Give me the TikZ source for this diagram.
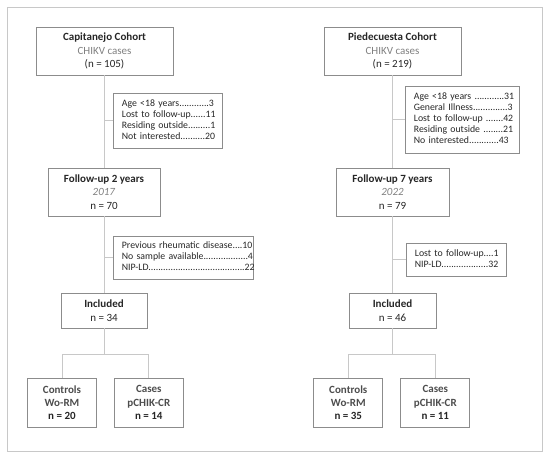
\documentclass[tikz,border=0pt]{standalone}
\usepackage{fontspec}
\setmainfont{Carlito}
\definecolor{boxline}{HTML}{8C8C8C}
\definecolor{linkgray}{HTML}{C8C8C8}
\definecolor{labelgray}{HTML}{808080}
\definecolor{inkgray}{HTML}{262626}
\definecolor{softink}{HTML}{4D4D4D}

\begin{document}
\begin{tikzpicture}[x=1pt, y=-1pt,
  box/.style={draw=boxline, line width=0.8pt, text=inkgray, align=center, inner sep=0pt, font=\fontsize{11}{13.5}\selectfont},
  excl/.style={draw=boxline, line width=0.8pt, text=inkgray, anchor=west, align=left, inner xsep=8.5pt, inner ysep=0pt, font=\fontsize{9.8}{10.9}\selectfont},
  leaf/.style={box, minimum width=69pt, minimum height=49pt, font=\bfseries\fontsize{11}{13.3}\selectfont},
  link/.style={draw=linkgray, line width=0.9pt}]
\useasboundingbox (0,0) rectangle (550,461);
\draw[linkgray, line width=1pt] (7,7) rectangle (542,451);

\node[box, minimum width=137pt, minimum height=48pt] (cap) at (104.5,51) {\textbf{Capitanejo Cohort}\\\textcolor{labelgray}{CHIKV cases}\\(n = 105)};
\node[excl, text width=92pt, minimum height=55pt] (exA) at (113,120.5) {\begin{tabular}{@{}l@{}}Age <18 years............3\\Lost to follow-up......11\\Residing outside.........1\\Not interested..........20\end{tabular}};
\node[box, minimum width=112pt, minimum height=48pt] (fu2) at (104,192) {\textbf{Follow-up 2 years}\\\textcolor{labelgray}{\textit{2017}}\\n = 70};
\node[excl, text width=123pt, minimum height=43pt] (exB) at (113,257.5) {\begin{tabular}{@{}l@{}}Previous rheumatic disease....10\\No sample available..................4\\NIP-LD.......................................22\end{tabular}};
\node[box, minimum width=86pt, minimum height=35pt] (inc1) at (104,310.5) {\textbf{Included}\\n = 34};
\node[leaf] (ctl1) at (62,402.5) {\textcolor{softink}{Controls}\\\textcolor{softink}{Wo-RM}\\n = 20};
\node[leaf] (cas1) at (148.8,402.5) {\textcolor{softink}{Cases}\\\textcolor{softink}{pCHIK-CR}\\n = 14};

\node[box, minimum width=137pt, minimum height=48pt] (pie) at (392.5,51) {\textbf{Piedecuesta Cohort}\\\textcolor{labelgray}{CHIKV cases}\\(n = 219)};
\node[excl, text width=97pt, minimum height=67pt] (exC) at (405,119.5) {\begin{tabular}{@{}l@{}}Age <18 years ............31\\General Illness..............3\\Lost to follow-up .......42\\Residing outside ........21\\No interested............43\end{tabular}};
\node[box, minimum width=113pt, minimum height=48pt] (fu7) at (392.5,192) {\textbf{Follow-up 7 years}\\\textcolor{labelgray}{\textit{2022}}\\n = 79};
\node[excl, text width=83pt, minimum height=33pt] (exD) at (406,259.5) {\begin{tabular}{@{}l@{}}Lost to follow-up....1\\NIP-LD...................32\end{tabular}};
\node[box, minimum width=87pt, minimum height=35pt] (inc2) at (392.5,310.5) {\textbf{Included}\\n = 46};
\node[leaf] (ctl2) at (348.3,402.5) {\textcolor{softink}{Controls}\\\textcolor{softink}{Wo-RM}\\n = 35};
\node[leaf] (cas2) at (435.3,402.5) {\textcolor{softink}{Cases}\\\textcolor{softink}{pCHIK-CR}\\n = 11};

\draw[link] (cap.south) -- (cap.south |- fu2.north);
\draw[link] (exA.west) -- (exA.west -| cap.south);
\draw[link] (fu2.south) -- (inc1.north);
\draw[link] (exB.west) -- (exB.west -| fu2.south);
\path (inc1.south) ++(0,26) coordinate (br1);
\draw[link] (inc1.south) -- (br1);
\draw[link] (ctl1.north) |- (br1) -| (cas1.north);

\draw[link] (pie.south) -- (pie.south |- fu7.north);
\draw[link] (exC.west) -- (exC.west -| pie.south);
\draw[link] (fu7.south) -- (inc2.north);
\draw[link] (exD.west) -- (exD.west -| fu7.south);
\path (inc2.south) ++(0,26) coordinate (br2);
\draw[link] (inc2.south) -- (br2);
\draw[link] (ctl2.north) |- (br2) -| (cas2.north);
\end{tikzpicture}
\end{document}
